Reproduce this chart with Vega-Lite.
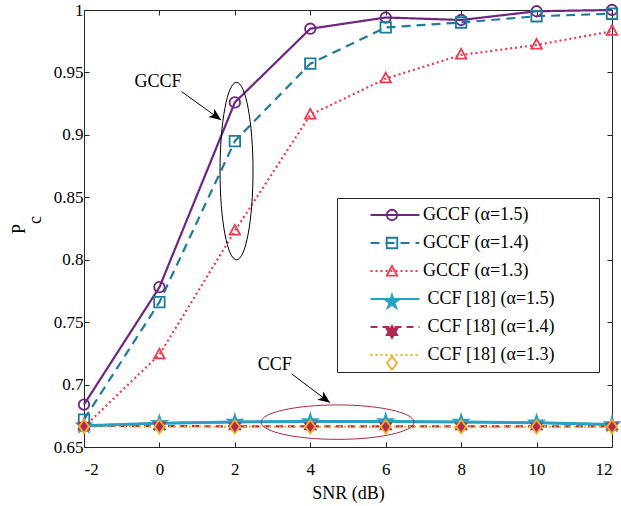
{
  "$schema": "https://vega.github.io/schema/vega-lite/v6.json",
  "width": 528,
  "height": 437,
  "autosize": {"type": "none"},
  "padding": {"left": 84, "top": 10, "right": 9, "bottom": 59},
  "background": "white",
  "datasets": {
    "curves": [
      {"snr": -2, "pc": 0.684, "series": "GCCF (α=1.5)"},
      {"snr": 0, "pc": 0.778, "series": "GCCF (α=1.5)"},
      {"snr": 2, "pc": 0.926, "series": "GCCF (α=1.5)"},
      {"snr": 4, "pc": 0.985, "series": "GCCF (α=1.5)"},
      {"snr": 6, "pc": 0.994, "series": "GCCF (α=1.5)"},
      {"snr": 8, "pc": 0.992, "series": "GCCF (α=1.5)"},
      {"snr": 10, "pc": 0.999, "series": "GCCF (α=1.5)"},
      {"snr": 12, "pc": 1.0, "series": "GCCF (α=1.5)"},
      {"snr": -2, "pc": 0.672, "series": "GCCF (α=1.4)"},
      {"snr": 0, "pc": 0.766, "series": "GCCF (α=1.4)"},
      {"snr": 2, "pc": 0.895, "series": "GCCF (α=1.4)"},
      {"snr": 4, "pc": 0.957, "series": "GCCF (α=1.4)"},
      {"snr": 6, "pc": 0.986, "series": "GCCF (α=1.4)"},
      {"snr": 8, "pc": 0.990, "series": "GCCF (α=1.4)"},
      {"snr": 10, "pc": 0.995, "series": "GCCF (α=1.4)"},
      {"snr": 12, "pc": 0.997, "series": "GCCF (α=1.4)"},
      {"snr": -2, "pc": 0.666, "series": "GCCF (α=1.3)"},
      {"snr": 0, "pc": 0.724, "series": "GCCF (α=1.3)"},
      {"snr": 2, "pc": 0.823, "series": "GCCF (α=1.3)"},
      {"snr": 4, "pc": 0.916, "series": "GCCF (α=1.3)"},
      {"snr": 6, "pc": 0.945, "series": "GCCF (α=1.3)"},
      {"snr": 8, "pc": 0.964, "series": "GCCF (α=1.3)"},
      {"snr": 10, "pc": 0.972, "series": "GCCF (α=1.3)"},
      {"snr": 12, "pc": 0.983, "series": "GCCF (α=1.3)"},
      {"snr": -2, "pc": 0.667, "series": "CCF [18] (α=1.5)"},
      {"snr": 0, "pc": 0.669, "series": "CCF [18] (α=1.5)"},
      {"snr": 2, "pc": 0.670, "series": "CCF [18] (α=1.5)"},
      {"snr": 4, "pc": 0.6705, "series": "CCF [18] (α=1.5)"},
      {"snr": 6, "pc": 0.6705, "series": "CCF [18] (α=1.5)"},
      {"snr": 8, "pc": 0.670, "series": "CCF [18] (α=1.5)"},
      {"snr": 10, "pc": 0.6695, "series": "CCF [18] (α=1.5)"},
      {"snr": 12, "pc": 0.668, "series": "CCF [18] (α=1.5)"},
      {"snr": -2, "pc": 0.667, "series": "CCF [18] (α=1.4)"},
      {"snr": 0, "pc": 0.6668, "series": "CCF [18] (α=1.4)"},
      {"snr": 2, "pc": 0.6665, "series": "CCF [18] (α=1.4)"},
      {"snr": 4, "pc": 0.6665, "series": "CCF [18] (α=1.4)"},
      {"snr": 6, "pc": 0.6665, "series": "CCF [18] (α=1.4)"},
      {"snr": 8, "pc": 0.6665, "series": "CCF [18] (α=1.4)"},
      {"snr": 10, "pc": 0.6665, "series": "CCF [18] (α=1.4)"},
      {"snr": 12, "pc": 0.6665, "series": "CCF [18] (α=1.4)"},
      {"snr": -2, "pc": 0.6665, "series": "CCF [18] (α=1.3)"},
      {"snr": 0, "pc": 0.6663, "series": "CCF [18] (α=1.3)"},
      {"snr": 2, "pc": 0.6662, "series": "CCF [18] (α=1.3)"},
      {"snr": 4, "pc": 0.6662, "series": "CCF [18] (α=1.3)"},
      {"snr": 6, "pc": 0.6662, "series": "CCF [18] (α=1.3)"},
      {"snr": 8, "pc": 0.6662, "series": "CCF [18] (α=1.3)"},
      {"snr": 10, "pc": 0.6662, "series": "CCF [18] (α=1.3)"},
      {"snr": 12, "pc": 0.6662, "series": "CCF [18] (α=1.3)"}
    ]
  },
  "layer": [
    {
      "data": {"name": "curves"},
      "mark": {"type": "line", "strokeWidth": 2.2},
      "encoding": {
        "x": {"field": "snr", "type": "quantitative",
          "scale": {"domain": [-2, 12], "nice": false, "zero": false},
          "axis": {"orient": "bottom", "values": [-2, 0, 2, 4, 6, 8, 10, 12], "labelExpr": "'' + datum.value", "labelPadding": 19, "title": "SNR (dB)", "titlePadding": 7}},
        "y": {"field": "pc", "type": "quantitative",
          "scale": {"domain": [0.65, 1], "nice": false, "zero": false},
          "axis": {"orient": "left", "values": [0.65, 0.7, 0.75, 0.8, 0.85, 0.9, 0.95, 1], "format": ".2~f", "labelPadding": 6, "title": ["P", "\u200b\u00a0\u00a0\u00a0\u00a0c"], "titlePadding": 9, "titleLineHeight": 16}},
        "stroke": {"field": "series", "type": "nominal", "sort": null,
          "scale": {"range": ["#6f2581", "#1d7c9d", "#ee3a4e", "#2aa1c3", "#b02a52", "#efb023"]},
          "legend": {"orient": "none", "legendX": 253, "legendY": 188, "title": null, "symbolType": "M-4.45,0L4.45,0", "symbolSize": 121, "symbolStrokeWidth": 2.2, "padding": 8, "symbolOffset": 41, "labelOffset": 19, "rowPadding": 10, "strokeColor": "#262626", "fillColor": "white", "labelExpr": "(indexof(datum.label, 'CCF [') == 0 ? '\u200b\u00a0' : '') + datum.label + '\u00a0\u00a0\u00a0\u00a0\u00a0\u00a0\u00a0\u00a0\u200b'"}},
        "strokeDash": {"field": "series", "type": "nominal", "sort": null,
          "scale": {"range": [[1, 0], [9, 6], [2, 3], [1, 0], [7, 5], [2, 3]]}}
      }
    },
    {
      "data": {"name": "curves"},
      "transform": [{"filter": "datum.series == 'CCF [18] (α=1.5)'"}],
      "mark": {"type": "line", "strokeWidth": 3, "color": "#2aa1c3"},
      "encoding": {
        "x": {"field": "snr", "type": "quantitative", "axis": null},
        "y": {"field": "pc", "type": "quantitative", "axis": null}
      }
    },
    {
      "data": {"name": "curves"},
      "mark": {"type": "point", "filled": false, "strokeWidth": 1.8, "size": 110, "opacity": 1},
      "encoding": {
        "x": {"field": "snr", "type": "quantitative", "axis": null},
        "y": {"field": "pc", "type": "quantitative", "axis": null},
        "color": {"field": "series", "type": "nominal",
          "scale": {"domain": ["GCCF (α=1.5)", "GCCF (α=1.4)", "GCCF (α=1.3)", "CCF [18] (α=1.5)", "CCF [18] (α=1.4)", "CCF [18] (α=1.3)"],
            "range": ["#6f2581", "#1d7c9d", "#ee3a4e", "#2aa1c3", "#b02a52", "#efb023"]},
          "legend": {"orient": "none", "legendX": 291, "legendY": 188, "title": null, "symbolSize": 110, "symbolStrokeWidth": 1.8, "padding": 8, "rowPadding": 10, "labelExpr": "''"}},
        "fill": {"field": "series", "type": "nominal",
          "scale": {"domain": ["GCCF (α=1.5)", "GCCF (α=1.4)", "GCCF (α=1.3)", "CCF [18] (α=1.5)", "CCF [18] (α=1.4)", "CCF [18] (α=1.3)"],
            "range": ["transparent", "transparent", "transparent", "#2aa1c3", "#b02a52", "transparent"]}},
        "shape": {"field": "series", "type": "nominal",
          "scale": {"domain": ["GCCF (α=1.5)", "GCCF (α=1.4)", "GCCF (α=1.3)", "CCF [18] (α=1.5)", "CCF [18] (α=1.4)", "CCF [18] (α=1.3)"],
            "range": ["circle", "square", "M0,-1.15L1,0.7L-1,0.7Z",
              "M0,-1.4L0.3128,-0.4304L1.3315,-0.4326L0.506,0.1644L0.8229,1.1326L0,0.532L-0.8229,1.1326L-0.506,0.1644L-1.3315,-0.4326L-0.3128,-0.4304Z",
              "M0,-1.15L0.332,-0.575L0.996,-0.575L0.664,0L0.996,0.575L0.332,0.575L0,1.15L-0.332,0.575L-0.996,0.575L-0.664,0L-0.996,-0.575L-0.332,-0.575Z",
              "M0,-1.3L0.95,0L0,1.3L-0.95,0Z"]}}
      }
    },
    {
      "data": {"values": [{"x": 2.044, "y": 0.871}]},
      "mark": {"type": "point", "filled": false, "stroke": "#000000", "strokeWidth": 1, "size": 31471, "opacity": 1,
        "shape": "M-0.186,0A0.186,1 0 1,0 0.186,0A0.186,1 0 1,0 -0.186,0Z"},
      "encoding": {
        "x": {"field": "x", "type": "quantitative", "axis": null},
        "y": {"field": "y", "type": "quantitative", "axis": null}
      }
    },
    {
      "data": {"values": [{"x": 4.722, "y": 0.6699}]},
      "mark": {"type": "point", "filled": false, "stroke": "#b0283f", "strokeWidth": 1, "size": 23409, "opacity": 1,
        "shape": "M-1,0A1,0.225 0 1,0 1,0A1,0.225 0 1,0 -1,0Z"},
      "encoding": {
        "x": {"field": "x", "type": "quantitative", "axis": null},
        "y": {"field": "y", "type": "quantitative", "axis": null}
      }
    },
    {
      "data": {"values": [
        {"x": 0.59, "y": 0.9346, "x2": 1.633, "y2": 0.9119},
        {"x": 3.507, "y": 0.7085, "x2": 4.523, "y2": 0.6855}
      ]},
      "mark": {"type": "rule", "color": "#000000", "strokeWidth": 1},
      "encoding": {
        "x": {"field": "x", "type": "quantitative", "axis": null},
        "y": {"field": "y", "type": "quantitative", "axis": null},
        "x2": {"field": "x2"},
        "y2": {"field": "y2"}
      }
    },
    {
      "data": {"values": [
        {"x": 1.633, "y": 0.9119},
        {"x": 4.523, "y": 0.6855}
      ]},
      "mark": {"type": "point", "filled": true, "color": "#000000", "opacity": 1, "size": 576, "angle": 36,
        "shape": "M0,0L-1,-0.42L-0.75,0L-1,0.42Z"},
      "encoding": {
        "x": {"field": "x", "type": "quantitative", "axis": null},
        "y": {"field": "y", "type": "quantitative", "axis": null}
      }
    },
    {
      "data": {"values": [
        {"x": -0.038, "y": 0.9426, "label": "GCCF"},
        {"x": 3.056, "y": 0.7157, "label": "CCF"}
      ]},
      "mark": {"type": "text", "font": "Liberation Serif", "fontSize": 18, "color": "#000000"},
      "encoding": {
        "x": {"field": "x", "type": "quantitative",
          "axis": {"orient": "top", "values": [-2, 0, 2, 4, 6, 8, 10, 12], "labels": false, "title": null}},
        "y": {"field": "y", "type": "quantitative",
          "axis": {"orient": "right", "values": [0.65, 0.7, 0.75, 0.8, 0.85, 0.9, 0.95, 1], "labels": false, "title": null}},
        "text": {"field": "label"}
      }
    }
  ],
  "resolve": {"axis": {"x": "independent", "y": "independent"}},
  "config": {
    "view": {"stroke": null},
    "axis": {
      "grid": false,
      "domainColor": "#262626",
      "domainWidth": 1,
      "tickColor": "#262626",
      "tickSize": -5,
      "labelFont": "Liberation Serif",
      "labelFontSize": 17,
      "labelColor": "#000000",
      "labelPadding": 8,
      "titleFont": "Liberation Serif",
      "titleFontSize": 18,
      "titleFontWeight": "normal",
      "titleColor": "#000000"
    },
    "legend": {
      "labelFont": "Liberation Serif",
      "labelFontSize": 18,
      "labelColor": "#000000",
      "labelLimit": 400
    }
  }
}
